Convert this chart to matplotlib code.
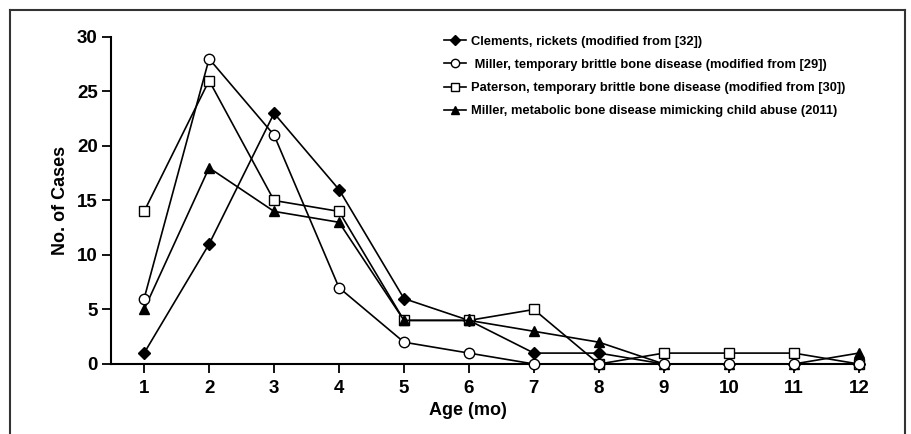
import numpy as np
import matplotlib.pyplot as plt
from matplotlib.lines import Line2D

# data
age = [1, 2, 3, 4, 5, 6, 7, 8, 9, 10, 11, 12]
clements = [1, 11, 23, 16, 6, 4, 1, 1, 0, 0, 0, 0]
miller_tbbd = [6, 28, 21, 7, 2, 1, 0, 0, 0, 0, 0, 0]
paterson = [14, 26, 15, 14, 4, 4, 5, 0, 1, 1, 1, 0]
miller_2011 = [5, 18, 14, 13, 4, 4, 3, 2, 0, 0, 0, 1]

labels = ['Clements, rickets (modified from [32])',
          ' Miller, temporary brittle bone disease (modified from [29])',
          'Paterson, temporary brittle bone disease (modified from [30])',
          'Miller, metabolic bone disease mimicking child abuse (2011)']

plt.rcParams['font.family'] = ['Liberation Sans', 'DejaVu Sans']
plt.rcParams['font.weight'] = 'bold'

fig = plt.figure(figsize=(9.12, 4.34), dpi=100)
ax = fig.add_axes([0.1217, 0.1613, 0.8235, 0.7535])

lw = 1.2
ax.plot(age, clements, color='black', lw=lw, marker='D', ms=6,
        mfc='black', mec='black', label=labels[0], clip_on=False, zorder=3)
ax.plot(age, miller_tbbd, color='black', lw=lw, marker='o', ms=7.5,
        mfc='white', mec='black', mew=1.0, label=labels[1], clip_on=False, zorder=4)
ax.plot(age, paterson, color='black', lw=lw, marker='s', ms=6.5,
        mfc='white', mec='black', mew=1.0, label=labels[2], clip_on=False, zorder=3)
ax.plot(age, miller_2011, color='black', lw=lw, marker='^', ms=7,
        mfc='black', mec='black', label=labels[3], clip_on=False, zorder=3)

ax.set_xlim(0.49, 12.05)
ax.set_ylim(0, 30)
ax.set_xticks(age)
ax.set_yticks([0, 5, 10, 15, 20, 25, 30])
for s in ['top', 'right']:
    ax.spines[s].set_visible(False)
for s in ['left', 'bottom']:
    ax.spines[s].set_linewidth(1.5)
ax.tick_params(axis='both', direction='out', length=6.5, width=1.3,
               labelsize=13.5)
ax.tick_params(axis='x', pad=5)
ax.tick_params(axis='y', pad=3)

ax.set_xlabel('Age (mo)', fontsize=13, fontweight='bold')
ax.xaxis.set_label_coords(0.475, -0.115)
ax.set_ylabel('No. of Cases', fontsize=13, fontweight='bold', labelpad=6)

leg = ax.legend(loc='upper left', bbox_to_anchor=(0.43, 1.036), frameon=False,
                fontsize=9.3, handlelength=1.7, handletextpad=0.4,
                labelspacing=0.87, markerscale=0.8, borderpad=0.3)
for t in leg.get_texts():
    t.set_fontweight('bold')

# outer frame around the figure
frame_kw = dict(color='#333333', lw=1.5, transform=fig.transFigure)
x0, x1 = 10 / 912, 905 / 912
y1 = 1 - 10 / 434
fig.add_artist(Line2D([x0, x0], [0, y1], **frame_kw))
fig.add_artist(Line2D([x0, x1], [y1, y1], **frame_kw))
fig.add_artist(Line2D([x1, x1], [0, y1], **frame_kw))

fig.savefig('out.png', dpi=100)
